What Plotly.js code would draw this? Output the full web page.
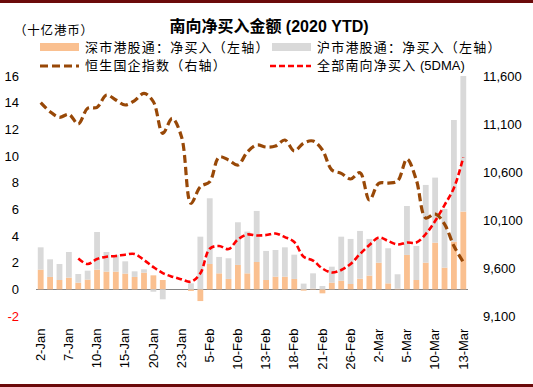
<!DOCTYPE html>
<html><head><meta charset="utf-8">
<script src="https://cdn.plot.ly/plotly-3.0.1.min.js"></script>
<style>
body{margin:0;padding:0;background:#fff}
#wrap{position:relative;width:533px;height:387px;overflow:hidden}
#chart{width:533px;height:387px}
.bt{position:absolute;left:0;width:533px;height:3px;background:#6b0a0a}
</style>
</head><body>
<div id="wrap"><div id="chart"></div><div class="bt" style="top:0"></div><div class="bt" style="top:384px"></div></div>
<script>
// ---- data ----
const dates = ['2-Jan','3-Jan','6-Jan','7-Jan','8-Jan','9-Jan','10-Jan','13-Jan','14-Jan','15-Jan','16-Jan','17-Jan','20-Jan','21-Jan','22-Jan','23-Jan',
  '3-Feb','4-Feb','5-Feb','6-Feb','7-Feb','10-Feb','11-Feb','12-Feb','13-Feb','14-Feb','17-Feb','18-Feb','19-Feb','20-Feb','21-Feb','24-Feb','25-Feb','26-Feb','27-Feb','28-Feb',
  '2-Mar','3-Mar','4-Mar','5-Mar','6-Mar','9-Mar','10-Mar','11-Mar','12-Mar','13-Mar'];
const tickLabels = ['2-Jan','7-Jan','10-Jan','15-Jan','20-Jan','23-Jan','5-Feb','10-Feb','13-Feb','18-Feb','21-Feb','26-Feb','2-Mar','5-Mar','10-Mar','13-Mar'];
// 深市港股通 净买入 (十亿港币)
const szNet = [1.48,0.93,0.70,0.88,0.50,0.73,1.48,1.33,1.33,1.18,0.93,1.25,1.05,0.70,0,0,
  -0.12,-0.88,1.90,1.20,0.78,1.83,1.20,2.05,0.70,0.95,0.95,0.78,-0.10,0.05,-0.30,0.50,0.65,0.40,0.80,1.03,
  2.00,0.45,0.05,2.58,0.70,2.00,3.50,1.63,3.58,5.83];
// 沪市港股通 净买入 (十亿港币)
const shNet = [1.67,1.32,1.20,1.92,0.65,0.67,2.82,1.47,1.25,0.92,0.42,0.25,-0.18,-0.75,0,0,
  0.45,3.95,4.93,1.23,1.55,3.20,3.13,3.83,2.18,2.00,2.20,1.82,0.43,1.15,0.25,1.20,3.30,3.38,3.58,2.75,
  1.78,2.63,1.08,3.67,2.55,5.83,4.88,4.40,9.12,10.17];
// 恒生国企指数 (右轴)
const hscei = [11322,11228,11170,11201,11100,11264,11274,11402,11350,11298,11343,11420,11332,11003,11159,10965,
  10274,10447,10499,10756,10725,10673,10808,10881,10860,10871,10933,10819,10902,10923,10829,10621,10586,10527,10593,10308,
  10482,10485,10506,10735,10517,10121,10163,10058,9829,9662];
// 全部南向净买入 5DMA (starts at 5th trading day)
const ma5Start = 4;
const ma5 = [2.31,1.90,2.27,2.45,2.50,2.60,2.65,2.20,1.67,1.22,0.95,0.75,0.57,1.20,3.05,3.25,3.02,3.74,4.11,4.04,
  4.07,4.19,3.92,3.55,2.45,2.16,1.56,1.26,1.45,1.90,2.65,3.32,3.89,3.62,3.36,3.51,3.51,4.15,5.12,6.32,7.60,9.90];
const leftTicks = [-2,0,2,4,6,8,10,12,14,16];
const rightTicks = [9100,9600,10100,10600,11100,11600];

// ---- styling ----
const FONT = "'Liberation Sans', Arial, 'Noto Sans CJK SC', sans-serif";
const C_SZ = '#fac090', C_SH = '#d9d9d9', C_HS = '#984807', C_MA = '#ff0000';
const L=36, R=65, T=76, B=71, PW=533-L-R, PH=387-T-B;
const px = x => (x - L) / PW, py = y => (T + PH - y) / PH;
const spaced = (s, ls) => '<span style="letter-spacing:' + ls + 'px">' + s + '</span>';

const traces = [
  {type:'bar', name:'深市港股通：净买入（左轴）', x:dates, y:szNet, marker:{color:C_SZ}, hoverinfo:'skip'},
  {type:'bar', name:'沪市港股通：净买入（左轴）', x:dates, y:shNet, marker:{color:C_SH}, hoverinfo:'skip'},
  {type:'scatter', mode:'lines', name:'全部南向净买入 (5DMA)', x:dates.slice(ma5Start), y:ma5,
    line:{color:C_MA, width:2.6, dash:'6px,3px', shape:'spline'}, hoverinfo:'skip'},
  {type:'scatter', mode:'lines', name:'恒生国企指数（右轴）', x:dates, y:hscei, yaxis:'y2',
    line:{color:C_HS, width:3.2, dash:'8px,4px', shape:'spline'}, hoverinfo:'skip'}
];

const annFont = {family:FONT, size:13, color:'#000'};
const layout = {
  width:533, height:387,
  margin:{l:L, r:R, t:T, b:B, pad:0},
  paper_bgcolor:'#fff', plot_bgcolor:'#fff',
  barmode:'relative', bargap:0.38, showlegend:false,
  font:{family:FONT, size:13, color:'#000'},
  title:{text:'<b>南向净买入金额 (2020 YTD)</b>', xref:'paper', x:px(269), xanchor:'center',
    yref:'container', y:1-26.5/387, yanchor:'middle', font:{family:FONT, size:16, color:'#000'}},
  xaxis:{type:'category', range:[-0.5, dates.length-0.5], tickvals:tickLabels, ticktext:tickLabels,
    tickangle:-90, showgrid:false, showline:false, zeroline:false, ticks:'', ticklabelstandoff:9,
    tickfont:{family:FONT, size:13, color:'#000'}},
  yaxis:{range:[-2,16], tickvals:leftTicks,
    ticktext:leftTicks.map(v => v < 0 ? '<span style="color:#ff0000">' + v + '</span>' : String(v)),
    showgrid:false, showline:false, zeroline:true, zerolinecolor:'#868686', zerolinewidth:1.6,
    ticks:'', ticklabelstandoff:16, tickfont:{family:FONT, size:13, color:'#000'}},
  yaxis2:{overlaying:'y', side:'right', range:[9100,11600], tickvals:rightTicks,
    ticktext:rightTicks.map(v => v.toLocaleString('en-US')),
    showgrid:false, showline:false, zeroline:false, ticks:'', ticklabelstandoff:14,
    tickfont:{family:FONT, size:13, color:'#000'}},
  shapes:[
    {type:'rect', xref:'paper', yref:'paper', x0:px(40), x1:px(79), y0:py(51), y1:py(43), fillcolor:C_SZ, line:{width:0}},
    {type:'rect', xref:'paper', yref:'paper', x0:px(272), x1:px(311), y0:py(51), y1:py(43), fillcolor:C_SH, line:{width:0}},
    {type:'line', xref:'paper', yref:'paper', x0:px(40), x1:px(79), y0:py(66), y1:py(66), line:{color:C_HS, width:3.2, dash:'8px,4px'}},
    {type:'line', xref:'paper', yref:'paper', x0:px(270), x1:px(311), y0:py(66), y1:py(66), line:{color:C_MA, width:2.6, dash:'6px,3px'}}
  ],
  annotations:[
    {text:spaced('（十亿港币）', 0.8), xref:'paper', yref:'paper', x:px(12), y:py(30), xanchor:'left', yanchor:'middle', showarrow:false, font:{family:FONT, size:12.5, color:'#000'}},
    {text:spaced('深市港股通：净买入（左轴）', 1.2), xref:'paper', yref:'paper', x:px(83), y:py(47), xanchor:'left', yanchor:'middle', showarrow:false, font:annFont},
    {text:spaced('沪市港股通：净买入（左轴）', 1.2), xref:'paper', yref:'paper', x:px(315), y:py(47), xanchor:'left', yanchor:'middle', showarrow:false, font:annFont},
    {text:spaced('恒生国企指数（右轴）', 1.2), xref:'paper', yref:'paper', x:px(83), y:py(66), xanchor:'left', yanchor:'middle', showarrow:false, font:annFont},
    {text:spaced('全部南向净买入', 1.2) + ' (5DMA)', xref:'paper', yref:'paper', x:px(315), y:py(66), xanchor:'left', yanchor:'middle', showarrow:false, font:annFont}
  ]
};

Plotly.newPlot('chart', traces, layout, {displayModeBar:false, staticPlot:true});
</script>
</body></html>
